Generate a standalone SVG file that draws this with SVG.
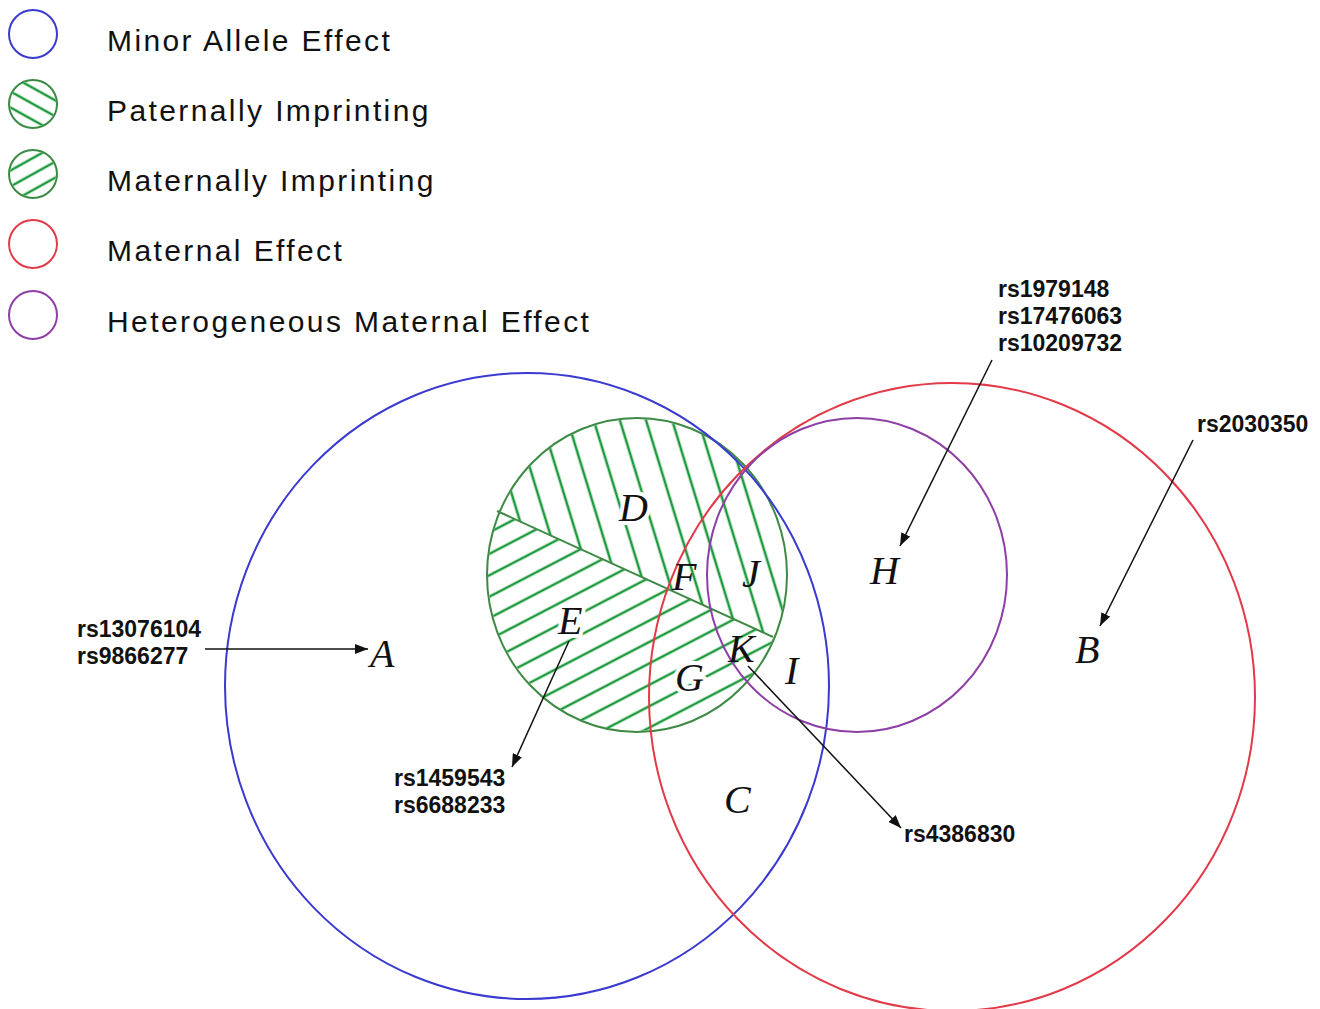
<svg xmlns="http://www.w3.org/2000/svg" width="1320" height="1009" viewBox="0 0 1320 1009">
<style>
.lg{font-family:"Liberation Sans",Arial,sans-serif;font-size:30px;letter-spacing:2.4px;fill:#111}
.rs{font-family:"Liberation Sans",Arial,sans-serif;font-size:23px;font-weight:bold;fill:#111}
.lt{font-family:"Liberation Serif","Times New Roman",serif;font-size:40px;font-style:italic;fill:#111}
.halo{stroke:#fff;stroke-width:8px;paint-order:stroke;stroke-linejoin:round}
.blue{fill:none;stroke:#3a3ad0;stroke-width:2}
.red{fill:none;stroke:#e23a48;stroke-width:2}
.purple{fill:none;stroke:#8e3fa6;stroke-width:2}
.gout{fill:none;stroke:#3d8a45;stroke-width:2}
.hatch{stroke:#1f9a3f;stroke-width:2.6}
.arr{stroke:#111;stroke-width:1.5;fill:none;marker-end:url(#ah)}
</style>
<defs>
<marker id="ah" markerUnits="userSpaceOnUse" markerWidth="14" markerHeight="10" refX="13" refY="5" orient="auto">
<path d="M0,0 L13,5 L0,10 z" fill="#111"/>
</marker>
<pattern id="patD" patternUnits="userSpaceOnUse" width="25" height="40" patternTransform="translate(505,0) rotate(-17)">
<line x1="12" y1="-5" x2="12" y2="45" class="hatch"/>
</pattern>
<pattern id="patE" patternUnits="userSpaceOnUse" width="40" height="19" patternTransform="translate(0,520) rotate(-27.5)">
<line x1="-5" y1="9" x2="45" y2="9" class="hatch"/>
</pattern>
<pattern id="patL1" patternUnits="userSpaceOnUse" width="30" height="14" patternTransform="translate(33,104) rotate(29)">
<line x1="-5" y1="0" x2="35" y2="0" class="hatch"/>
<line x1="-5" y1="14" x2="35" y2="14" class="hatch"/>
</pattern>
<pattern id="patL2" patternUnits="userSpaceOnUse" width="30" height="14" patternTransform="translate(33,174) rotate(-29)">
<line x1="-5" y1="0" x2="35" y2="0" class="hatch"/>
<line x1="-5" y1="14" x2="35" y2="14" class="hatch"/>
</pattern>
<clipPath id="cpUpper"><polygon points="470,499.5 810,653.9 810,400 470,400"/></clipPath>
<clipPath id="cpLower"><polygon points="470,499.5 810,653.9 810,760 470,760"/></clipPath>
</defs>

<g id="legend">
<g id="legend-minor">
<circle cx="33" cy="34" r="24" class="blue"/>
<text x="107" y="51" class="lg">Minor Allele Effect</text>
</g>
<g id="legend-paternal">
<circle cx="33" cy="104" r="23" fill="url(#patL1)"/>
<circle cx="33" cy="104" r="24" class="gout" stroke-width="1.5"/>
<text x="107" y="121" class="lg">Paternally Imprinting</text>
</g>
<g id="legend-maternal">
<circle cx="33" cy="174" r="23" fill="url(#patL2)"/>
<circle cx="33" cy="174" r="24" class="gout" stroke-width="1.5"/>
<text x="107" y="191" class="lg">Maternally Imprinting</text>
</g>
<g id="legend-maternal-effect">
<circle cx="33" cy="244" r="24" class="red"/>
<text x="107" y="261" class="lg">Maternal Effect</text>
</g>
<g id="legend-hetero">
<circle cx="33" cy="315" r="24" class="purple"/>
<text x="107" y="332" class="lg">Heterogeneous Maternal Effect</text>
</g>
</g>

<g id="imprinting-set">
<g clip-path="url(#cpUpper)"><ellipse cx="637" cy="575" rx="149" ry="156" fill="url(#patD)"/></g>
<g clip-path="url(#cpLower)"><ellipse cx="637" cy="575" rx="149" ry="156" fill="url(#patE)"/></g>
<ellipse cx="637" cy="575" rx="150" ry="157" class="gout"/>
<line x1="497" y1="511" x2="773" y2="637" class="gout"/>
</g>

<g id="minor-allele-set"><ellipse cx="527" cy="686" rx="302" ry="313" class="blue"/></g>
<g id="maternal-effect-set"><ellipse cx="952" cy="697" rx="303" ry="314" class="red"/></g>
<g id="hetero-set"><ellipse cx="857" cy="575" rx="150" ry="157" class="purple"/></g>

<g id="regions">
<text x="370" y="667" class="lt">A</text>
<text x="1075" y="663" class="lt">B</text>
<text x="724" y="813" class="lt">C</text>
<text x="619" y="521" class="lt halo">D</text>
<text x="558" y="634" class="lt halo">E</text>
<text x="672" y="590" class="lt">F</text>
<text x="675" y="691" class="lt halo">G</text>
<text x="870" y="584" class="lt">H</text>
<text x="785" y="684" class="lt">I</text>
<text x="742" y="587" class="lt">J</text>
<text x="728" y="662" class="lt">K</text>
</g>

<g id="connectors">
<line x1="205" y1="649" x2="368" y2="649" class="arr"/>
<line x1="569" y1="641" x2="512" y2="767" class="arr"/>
<line x1="748" y1="666" x2="901" y2="828" class="arr"/>
<line x1="992" y1="360" x2="900" y2="546" class="arr"/>
<line x1="1193" y1="440" x2="1100" y2="626" class="arr"/>
</g>

<g id="snp-labels">
<g id="lbl-A"><text x="77" y="637" class="rs">rs13076104</text><text x="77" y="664" class="rs">rs9866277</text></g>
<g id="lbl-E"><text x="394" y="786" class="rs">rs1459543</text><text x="394" y="813" class="rs">rs6688233</text></g>
<g id="lbl-K"><text x="904" y="842" class="rs">rs4386830</text></g>
<g id="lbl-H"><text x="998" y="297" class="rs">rs1979148</text><text x="998" y="324" class="rs">rs17476063</text><text x="998" y="351" class="rs">rs10209732</text></g>
<g id="lbl-B"><text x="1197" y="432" class="rs">rs2030350</text></g>
</g>
</svg>
